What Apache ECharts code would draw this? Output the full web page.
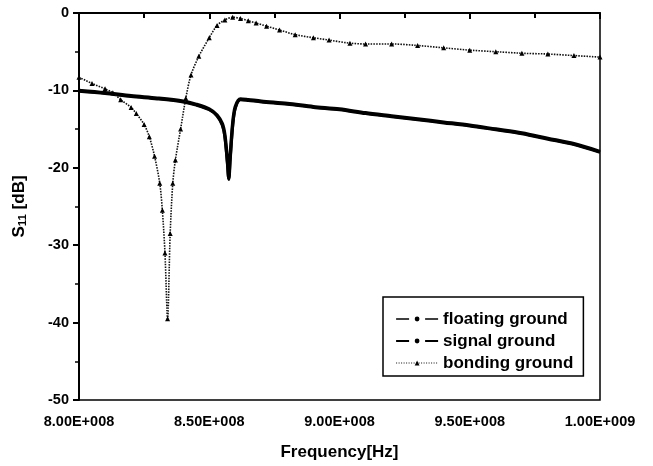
<!DOCTYPE html>
<html>
<head>
<meta charset="utf-8">
<script src="https://cdn.jsdelivr.net/npm/echarts@6/dist/echarts.min.js"></script>
<style>
  html, body { margin: 0; padding: 0; background: #fff; }
  #chart { width: 653px; height: 466px; }
</style>
</head>
<body>
<div id="chart"></div>
<script>
// Reflection coefficient S11 versus frequency for three grounding schemes.

// Frequencies (Hz) and S11 (dB) for the floating / signal ground curves
const freqGround = [
  8.00e8, 8.10e8, 8.20e8, 8.30e8, 8.40e8, 8.45e8, 8.50e8, 8.53e8, 8.55e8, 8.56e8,
  8.57e8, 8.575e8, 8.58e8, 8.59e8, 8.60e8, 8.62e8, 8.65e8, 8.70e8, 8.80e8, 8.90e8,
  9.00e8, 9.10e8, 9.20e8, 9.30e8, 9.40e8, 9.50e8, 9.60e8, 9.70e8, 9.80e8, 9.90e8, 1.00e9
];
const floatingGround = [
  -10.1, -10.4, -10.8, -11.1, -11.5, -11.9, -12.5, -13.3, -14.5, -16.0,
  -19.5, -21.5, -19.0, -14.5, -12.3, -11.2, -11.3, -11.5, -11.8, -12.2,
  -12.5, -13.0, -13.4, -13.8, -14.2, -14.6, -15.1, -15.6, -16.3, -17.0, -18.0
];
const signalGround = [
  -10.0, -10.3, -10.7, -11.0, -11.4, -11.8, -12.4, -13.2, -14.3, -15.8,
  -19.2, -21.3, -18.8, -14.3, -12.1, -11.1, -11.2, -11.4, -11.7, -12.1,
  -12.4, -12.9, -13.3, -13.7, -14.1, -14.5, -15.0, -15.5, -16.2, -16.9, -17.9
];

// Frequencies (Hz) and S11 (dB) for the bonding ground curve
const freqBonding = [
  8.00e8, 8.05e8, 8.10e8, 8.13e8, 8.16e8, 8.20e8, 8.22e8, 8.25e8, 8.27e8, 8.29e8,
  8.31e8, 8.32e8, 8.33e8, 8.34e8, 8.35e8, 8.36e8, 8.37e8, 8.39e8, 8.41e8, 8.43e8,
  8.46e8, 8.50e8, 8.53e8, 8.56e8, 8.59e8, 8.62e8, 8.65e8, 8.68e8, 8.72e8, 8.77e8,
  8.83e8, 8.90e8, 8.96e8, 9.04e8, 9.10e8, 9.20e8, 9.30e8, 9.40e8, 9.50e8, 9.60e8,
  9.70e8, 9.80e8, 9.90e8, 1.00e9
];
const bondingGround = [
  -8.3, -9.1, -9.8, -10.3, -11.2, -12.2, -13.0, -14.4, -16.0, -18.5,
  -22.0, -25.5, -31.0, -39.5, -28.5, -22.0, -19.0, -15.0, -11.0, -8.0,
  -5.6, -3.2, -1.6, -0.9, -0.55, -0.7, -1.0, -1.3, -1.7, -2.2,
  -2.8, -3.2, -3.5, -3.9, -4.0, -4.0, -4.2, -4.5, -4.8, -5.0,
  -5.2, -5.3, -5.5, -5.7
];

const seriesNames = ['floating ground', 'signal ground', 'bonding ground'];

const pairs = (xs, ys) => xs.map((x, i) => [x, ys[i]]);

// Format 8.5e8 as "8.50E+008"
function sciLabel(v) {
  const exp = Math.floor(Math.log10(v) + 1e-9);
  const mant = (v / Math.pow(10, exp)).toFixed(2);
  return mant + 'E+' + String(exp).padStart(3, '0');
}

const FONT = 'Liberation Sans, Arial, sans-serif';

const chart = echarts.init(document.getElementById('chart'), null, { renderer: 'canvas' });

chart.setOption({
  animation: false,
  backgroundColor: '#fff',
  grid: {
    left: 79, right: 53, top: 13, bottom: 64,
    show: true, borderColor: '#000', borderWidth: 1.5, backgroundColor: 'transparent'
  },
  legend: {
    orient: 'vertical',
    left: 383, top: 297,
    padding: [13, 10, 4, 12],
    itemWidth: 42, itemHeight: 6, itemGap: 4,
    borderColor: '#000', borderWidth: 1.5,
    backgroundColor: '#fff',
    textStyle: { fontFamily: FONT, fontSize: 17, fontWeight: 'bold', color: '#000', lineHeight: 18 },
    data: [
      { name: seriesNames[0], lineStyle: { type: [13, 16], width: 1.5 } },
      { name: seriesNames[1], lineStyle: { type: [13, 16], width: 2.2 } },
      { name: seriesNames[2], lineStyle: { type: [1, 1.5], width: 1.2 } }
    ]
  },
  xAxis: {
    type: 'value',
    min: 8.0e8, max: 1.0e9, interval: 0.5e8,
    name: 'Frequency[Hz]',
    nameLocation: 'middle', nameGap: 44,
    nameTextStyle: { fontFamily: FONT, fontSize: 17, fontWeight: 'bold', color: '#000' },
    axisLine: { lineStyle: { color: '#000', width: 2 } },
    axisTick: { show: true, length: 6, lineStyle: { color: '#000', width: 2 } },
    minorTick: { show: true, splitNumber: 2, length: 5, lineStyle: { color: '#000', width: 2 } },
    splitLine: { show: false },
    axisLabel: {
      fontFamily: FONT, fontSize: 14.5, fontWeight: 'bold', color: '#000', margin: 14,
      formatter: sciLabel
    }
  },
  yAxis: {
    type: 'value',
    min: -50, max: 0, interval: 10,
    name: '{s|S}{sub|11}{s| [dB]}',
    nameLocation: 'middle', nameGap: 50, nameRotate: 90,
    nameTextStyle: {
      rich: {
        s: { fontFamily: FONT, fontSize: 17, fontWeight: 'bold', color: '#000' },
        sub: { fontFamily: FONT, fontSize: 11.5, fontWeight: 'bold', color: '#000', verticalAlign: 'bottom', padding: [8, 0, 0, 0] }
      }
    },
    axisLine: { lineStyle: { color: '#000', width: 2 } },
    axisTick: { show: true, length: 6, lineStyle: { color: '#000', width: 2 } },
    minorTick: { show: true, splitNumber: 2, length: 4, lineStyle: { color: '#000', width: 1.5 } },
    splitLine: { show: false },
    axisLabel: { fontFamily: FONT, fontSize: 14.5, fontWeight: 'bold', color: '#000', margin: 10 }
  },
  series: [
    {
      name: seriesNames[0], type: 'line',
      data: pairs(freqGround, floatingGround),
      symbol: 'circle', symbolSize: 3, showSymbol: false,
      smooth: 0.3,
      lineStyle: { color: '#000', width: 3 },
      itemStyle: { color: '#000' }
    },
    {
      name: seriesNames[1], type: 'line',
      data: pairs(freqGround, signalGround),
      symbol: 'circle', symbolSize: 3, showSymbol: false,
      smooth: 0.3,
      lineStyle: { color: '#000', width: 3.5 },
      itemStyle: { color: '#000' }
    },
    {
      name: seriesNames[2], type: 'line',
      data: pairs(freqBonding, bondingGround),
      symbol: 'triangle', symbolSize: 5, showSymbol: true,
      smooth: 0.3,
      lineStyle: { color: '#111', width: 1.6, type: [1.5, 1.2] },
      itemStyle: { color: '#000' }
    }
  ]
});
</script>
</body>
</html>
